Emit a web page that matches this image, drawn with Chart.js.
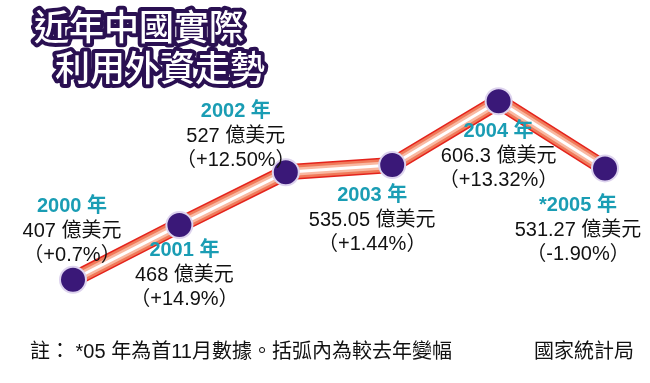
<!DOCTYPE html>
<html>
<head>
<meta charset="utf-8">
<script src="https://cdn.jsdelivr.net/npm/chart.js@4"></script>
<style>
  html, body { margin: 0; padding: 0; background: #ffffff; }
  #wrap { width: 650px; height: 383px; position: relative; }
</style>
</head>
<body>
<div id="wrap"><canvas id="c"></canvas></div>
<script>
// ---- data ----
const years = ['2000', '2001', '2002', '2003', '2004', '2005'];
const yearLabels = ['2000 年', '2001 年', '2002 年', '2003 年', '2004 年', '*2005 年'];
const values = [407, 468, 527, 535.05, 606.3, 531.27];
const valueLabels = ['407', '468', '527', '535.05', '606.3', '531.27'];
const changes = ['（+0.7%）', '（+14.9%）', '（+12.50%）', '（+1.44%）', '（+13.32%）', '（-1.90%）'];
const titleLines = ['近年中國實際', '利用外資走勢'];
const noteText = '註： *05 年為首11月數據。括弧內為較去年變幅';
const sourceText = '國家統計局';
const unitText = '億美元';

// label placement relative to each point (first line centre)
const labelOffsets = [[-1, -73], [5, 25], [-50, -61], [-20, 30], [0, 30], [-27, 37]];

const tube = (color, width, order) => ({
  data: values, borderColor: color, borderWidth: width, pointRadius: 0,
  pointHoverRadius: 0, fill: false, tension: 0, order: order, clip: false,
  borderCapStyle: 'butt', borderJoinStyle: 'round'
});

const annotate = {
  id: 'annotate',
  afterDraw(chart) {
    const ctx = chart.ctx;
    const xs = chart.scales.x, ys = chart.scales.y;
    ctx.save();
    // title
    ctx.font = '500 35px "Noto Sans CJK TC", "Noto Sans CJK SC", sans-serif';
    ctx.textBaseline = 'middle';
    ctx.textAlign = 'left';
    ctx.lineJoin = 'round';
    ctx.lineWidth = 8;
    ctx.strokeStyle = '#2a1052';
    ctx.fillStyle = '#ffffff';
    const tpos = [[34, 27], [55, 68]];
    titleLines.forEach((t, i) => {
      ctx.strokeText(t, tpos[i][0], tpos[i][1]);
      ctx.fillText(t, tpos[i][0], tpos[i][1]);
    });
    // point labels
    ctx.textAlign = 'center';
    values.forEach((v, i) => {
      const px = xs.getPixelForValue(i);
      const py = ys.getPixelForValue(v);
      const cx = px + labelOffsets[i][0];
      const cy = py + labelOffsets[i][1];
      ctx.font = 'bold 20px "Liberation Sans", "Noto Sans CJK TC", sans-serif';
      ctx.fillStyle = '#1a9db4';
      ctx.fillText(yearLabels[i], cx, cy);
      ctx.font = '20px "Liberation Sans", "Noto Sans CJK TC", sans-serif';
      ctx.fillStyle = '#111111';
      ctx.fillText(valueLabels[i] + ' ' + unitText, cx, cy + 25);
      ctx.fillText(changes[i], cx, cy + 49);
    });
    // footer
    ctx.font = '20px "Liberation Sans", "Noto Sans CJK TC", sans-serif';
    ctx.fillStyle = '#111111';
    ctx.textAlign = 'left';
    ctx.fillText(noteText, 30, 352);
    ctx.textAlign = 'right';
    ctx.fillText(sourceText, 634, 352);
    ctx.restore();
  }
};

new Chart(document.getElementById('c'), {
  type: 'line',
  data: {
    labels: years,
    datasets: [
      {
        data: values, showLine: false, pointRadius: 13, pointHoverRadius: 13,
        pointBackgroundColor: '#3a1878', pointBorderColor: '#ddd3ee',
        pointBorderWidth: 2, order: 0, clip: false
      },
      tube('#ffffff', 3, 1),
      tube('#f9b9a2', 8, 2),
      tube('#f07a5a', 13, 3),
      tube('#e4231c', 16, 4)
    ]
  },
  options: {
    responsive: true,
    maintainAspectRatio: false,
    animation: false,
    events: [],
    layout: { padding: { left: 73, right: 45, top: 89, bottom: 97 } },
    plugins: { legend: { display: false }, tooltip: { enabled: false }, title: { display: false } },
    scales: {
      x: { display: false, offset: false },
      y: { display: false, min: 400, max: 620 }
    }
  },
  plugins: [annotate]
});
</script>
</body>
</html>
